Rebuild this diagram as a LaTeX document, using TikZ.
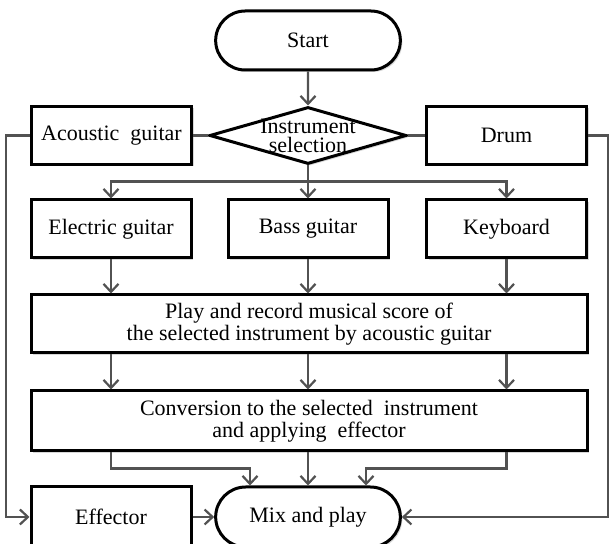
\documentclass[tikz,border=0pt]{standalone}
\usepackage{fontspec}
\setmainfont{Liberation Serif}
\usetikzlibrary{shapes.geometric,shapes.misc,arrows.meta,shadows}

\begin{document}
\begin{tikzpicture}[x=0.5pt,y=-0.5pt,
        font=\fontsize{11}{11}\selectfont,
        conn/.style={draw=black!68,line width=1.1pt},
        >={Straight Barb[length=4pt,width=7.5pt]},
        shade/.style={drop shadow={shadow xshift=1pt,shadow yshift=-1pt,fill=black!30}}]
    \useasboundingbox (0,0) rectangle (610,544);

    \node[rounded rectangle,draw,line width=1.5pt,fill=white,shade,
          minimum width=99pt,minimum height=29.5pt] (Start) at (308,40.5) {Start};
    \node[diamond,draw,line width=1.5pt,fill=white,shade,inner sep=0pt,
          minimum width=98.5pt,minimum height=28.5pt,
          label={[align=center,font=\fontsize{11}{9.5}\selectfont]center:Instrument\\selection}]
          (Sel) at (308,135.5) {};
    \node[rounded rectangle,draw,line width=1.5pt,fill=white,shade,
          minimum width=99pt,minimum height=30pt] (Mix) at (308,517) {Mix and play};

    \begin{scope}[every node/.style={rectangle,draw,line width=1.5pt,fill=white,shade,
                    align=center,minimum width=80pt,minimum height=29pt,inner sep=2pt}]
        \node (AG) at (111.5,135.5) {Acoustic~ guitar};
        \node (Drum) at (506.5,135.5) {Drum};
        \node (EG) at (111,229) {Electric guitar};
        \node (BG) at (308,229) {Bass guitar};
        \node (KB) at (506.5,229) {Keyboard};
        \node[minimum width=278pt] (Play) at (309,324)
            {Play and record musical score of\\the selected instrument by acoustic guitar};
        \node[minimum width=278pt,minimum height=30pt] (Conv) at (309,421)
            {Conversion to the selected~ instrument\\and applying~ effector};
        \node[minimum height=30pt] (Eff) at (111,517) {Effector};
    \end{scope}

    \path (Start) edge[conn,->] (Sel);
    \path (AG) edge[conn] (Sel);
    \path (Sel) edge[conn] (Drum);
    \path (Sel) edge[conn,->] (BG);
    \draw[conn,->] (Sel.south) -- ++(0,16) -| (EG.north);
    \draw[conn,->] (Sel.south) -- ++(0,16) -| (KB.north);

    \draw[conn,->] (EG.south) -- (EG.south |- Play.north);
    \draw[conn,->] (BG.south) -- (BG.south |- Play.north);
    \draw[conn,->] (KB.south) -- (KB.south |- Play.north);
    \draw[conn,->] (EG.south |- Play.south) -- (EG.south |- Conv.north);
    \draw[conn,->] (BG.south |- Play.south) -- (BG.south |- Conv.north);
    \draw[conn,->] (KB.south |- Play.south) -- (KB.south |- Conv.north);

    \draw[conn,->] (EG.south |- Conv.south) -- ++(0,16) -| ([xshift=-29pt]Mix.north);
    \draw[conn,->] (BG.south |- Conv.south) -- (BG.south |- Mix.north);
    \draw[conn,->] (KB.south |- Conv.south) -- ++(0,16) -| ([xshift=29pt]Mix.north);

    \draw[conn,->] (AG.west) -- ++(-24,0) |- (Eff.west);
    \draw[conn,->] (Drum.east) -- ++(20,0) |- (Mix.east);
    \path (Eff) edge[conn,->] (Mix);
\end{tikzpicture}
\end{document}
